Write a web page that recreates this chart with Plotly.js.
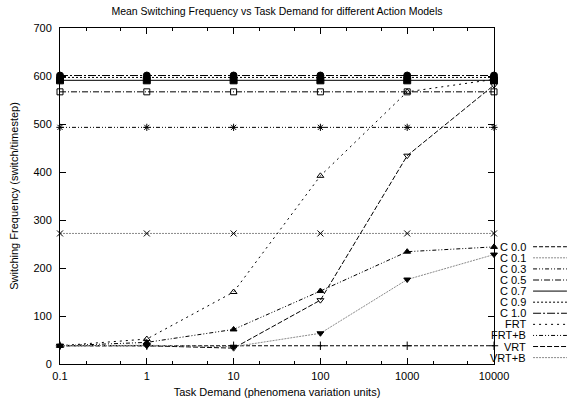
<!DOCTYPE html>
<html>
<head>
<meta charset="utf-8">
<script src="https://cdn.plot.ly/plotly-3.0.1.min.js"></script>
<style>html,body{margin:0;padding:0;background:#fff;}#chart{width:567px;height:403px;}</style>
</head>
<body>
<div id="chart"></div>
<script>
// Task demand (x) values
const taskDemand = [0.1, 1, 10, 100, 1000, 10000];

// Series names
const seriesNames = ["C 0.0", "C 0.1", "C 0.3", "C 0.5", "C 0.7", "C 0.9", "C 1.0", "FRT", "FRT+B", "VRT", "VRT+B"];

// Series values (switch/timestep)
const c00  = [38, 38, 38, 38, 38, 38];
const c01  = [272, 272, 272, 272, 272, 272];
const c03  = [493, 493, 493, 493, 493, 493];
const c05  = [567, 567, 567, 567, 567, 567];
const c07  = [591, 591, 591, 591, 591, 591];
const c09  = [597, 597, 597, 597, 597, 597];
const c10  = [601, 601, 601, 601, 601, 601];
const frt  = [38, 52, 150, 392, 567, 593];
const frtB = [38, 45, 72, 152, 234, 244];
const vrt  = [38, 38, 33, 133, 434, 581];
const vrtB = [38, 39, 36, 64, 176, 228];

const seriesValues = [c00, c01, c03, c05, c07, c09, c10, frt, frtB, vrt, vrtB];

// Styles
const styles = [
  {color: "#000", dash: "4px,2px", symbol: "cross-thin-open", size: 6},
  {color: "#8a8a8a", dash: "2px,1px", symbol: "x-thin-open", size: 6},
  {color: "#000", dash: "4px,2px,1px,2px,1px,2px", symbol: "asterisk-open", size: 6},
  {color: "#000", dash: "6px,2px,1px,2px", symbol: "square-open", size: 6},
  {color: "#000", dash: "solid", symbol: "square", size: 7},
  {color: "#000", dash: "2px,2px", symbol: "circle-open", size: 6},
  {color: "#000", dash: "8px,2px,2px,2px", symbol: "circle", size: 7},
  {color: "#000", dash: "2px,4px", symbol: "triangle-up-open", size: 6},
  {color: "#000", dash: "1px,2px,1px,2px,4px,2px", symbol: "triangle-up", size: 6},
  {color: "#000", dash: "5px,2px", symbol: "triangle-down-open", size: 6},
  {color: "#8a8a8a", dash: "2px,1px", symbol: "triangle-down", size: 6}
];

const traces = seriesNames.map((name, i) => ({
  x: taskDemand,
  y: seriesValues[i],
  name: name,
  type: "scatter",
  mode: "lines+markers",
  showlegend: false,
  line: {color: styles[i].color, width: 1, dash: styles[i].dash},
  marker: {symbol: styles[i].symbol, size: styles[i].size, color: "#000", line: {color: "#000", width: 1}},
  cliponaxis: false
}));

// Custom legend (text left of sample, as in the reference)
const legTop = 0.349, legStep = 0.033;
const annotations = [];
const shapes = [];
seriesNames.forEach((name, i) => {
  const yy = legTop - i * legStep;
  annotations.push({
    xref: "paper", yref: "paper", x: 1.078, y: yy, xanchor: "right", yanchor: "middle",
    text: name, showarrow: false, font: {family: "Liberation Sans, Arial, sans-serif", size: 11, color: "#000"}
  });
  shapes.push({
    type: "line", xref: "paper", yref: "paper", x0: 1.09, x1: 1.168, y0: yy, y1: yy,
    line: {color: styles[i].color, width: 1, dash: styles[i].dash}
  });
});

const font = {family: "Liberation Sans, Arial, sans-serif", size: 11, color: "#000"};

const layout = {
  width: 567, height: 403,
  margin: {l: 60, r: 73, t: 28, b: 39},
  paper_bgcolor: "#fff", plot_bgcolor: "#fff",
  font: font,
  showlegend: false,
  title: {text: "Mean Switching Frequency vs Task Demand for different Action Models",
          font: {family: "Liberation Sans, Arial, sans-serif", size: 10.5, color: "#000"},
          x: 0.5, xref: "paper", xanchor: "center", y: 0.972, yanchor: "middle"},
  xaxis: {
    type: "log", range: [-1, 4],
    tickvals: [0.1, 1, 10, 100, 1000, 10000],
    ticktext: ["0.1", "1", "10", "100", "1000", "10000"],
    ticks: "inside", ticklen: 6, tickwidth: 1, tickcolor: "#000",
    ticklabelstandoff: 2,
    minor: {ticks: "inside", ticklen: 3, tickcolor: "#000", dtick: "D2"},
    showline: true, linecolor: "#000", linewidth: 1, mirror: "allticks",
    showgrid: false, zeroline: false,
    title: {text: "Task Demand (phenomena variation units)", font: font, standoff: 7},
    automargin: false
  },
  yaxis: {
    range: [0, 700], tickvals: [0, 100, 200, 300, 400, 500, 600, 700],
    ticks: "inside", ticklen: 6, tickwidth: 1, tickcolor: "#000",
    ticklabelstandoff: 5,
    showline: true, linecolor: "#000", linewidth: 1, mirror: "allticks",
    showgrid: false, zeroline: false,
    title: {text: "Switching Frequency (switch/timestep)", font: font, standoff: 12},
    automargin: false
  },
  annotations: annotations,
  shapes: shapes
};

Plotly.newPlot("chart", traces, layout, {displayModeBar: false, staticPlot: true});
</script>
</body>
</html>
